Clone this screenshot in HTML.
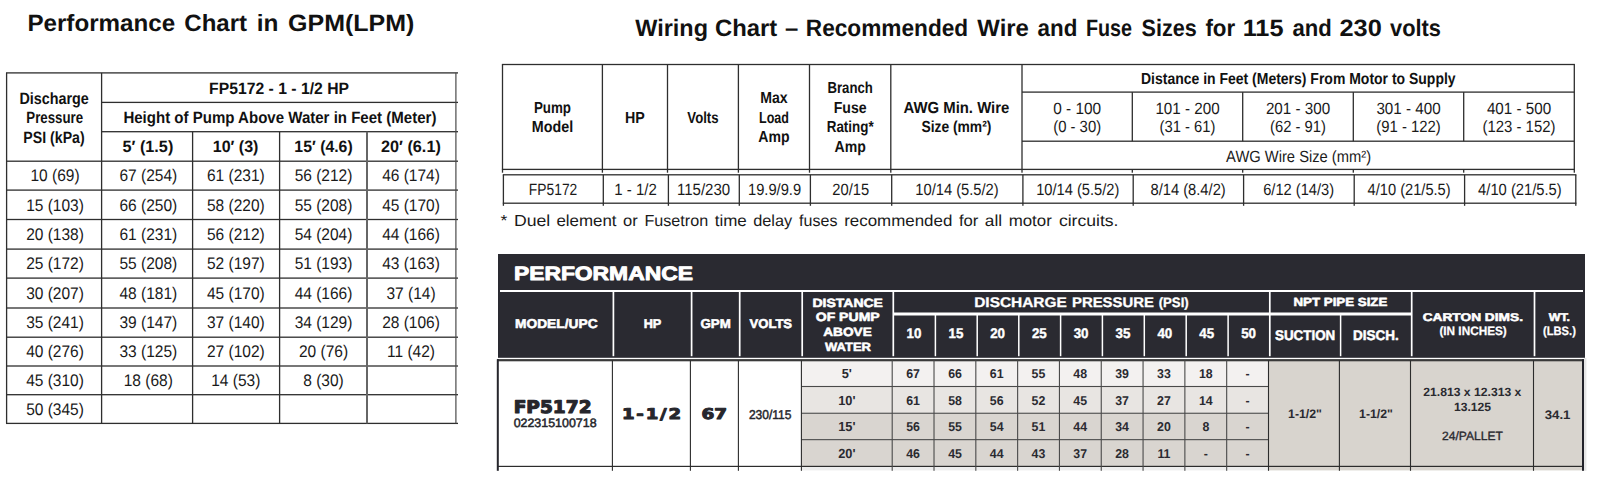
<!DOCTYPE html>
<html lang="en"><head><meta charset="utf-8"><title>FP5172 Performance and Wiring Charts</title>
<style>
html,body{margin:0;padding:0;background:#fff;}
body{width:1606px;height:487px;overflow:hidden;}
svg{display:block;}
text{font-family:"Liberation Sans",sans-serif;text-anchor:middle;white-space:pre;}
.d{font-family:"DejaVu Sans",sans-serif;}
.w{font-weight:bold;}
</style></head><body>
<svg width="1606" height="487" viewBox="0 0 1606 487" shape-rendering="geometricPrecision" text-rendering="geometricPrecision">
<rect x="0" y="0" width="1606" height="487" fill="#ffffff"/>
<rect x="6.00" y="72.25" width="452.00" height="1.30" fill="#2e2e2e"/>
<rect x="101.60" y="101.75" width="356.40" height="1.30" fill="#2e2e2e"/>
<rect x="101.60" y="131.05" width="356.40" height="1.30" fill="#2e2e2e"/>
<rect x="6.00" y="160.55" width="452.00" height="1.30" fill="#2e2e2e"/>
<rect x="6.00" y="189.45" width="452.00" height="1.30" fill="#2e2e2e"/>
<rect x="6.00" y="218.85" width="452.00" height="1.30" fill="#2e2e2e"/>
<rect x="6.00" y="248.45" width="452.00" height="1.30" fill="#2e2e2e"/>
<rect x="6.00" y="277.45" width="452.00" height="1.30" fill="#2e2e2e"/>
<rect x="6.00" y="307.35" width="452.00" height="1.30" fill="#2e2e2e"/>
<rect x="6.00" y="336.55" width="452.00" height="1.30" fill="#2e2e2e"/>
<rect x="6.00" y="365.35" width="452.00" height="1.30" fill="#2e2e2e"/>
<rect x="6.00" y="394.05" width="452.00" height="1.30" fill="#2e2e2e"/>
<rect x="6.00" y="422.75" width="452.00" height="1.30" fill="#2e2e2e"/>
<rect x="5.95" y="72.90" width="1.30" height="350.50" fill="#2e2e2e"/>
<rect x="100.95" y="72.90" width="1.30" height="350.50" fill="#2e2e2e"/>
<rect x="191.95" y="131.70" width="1.30" height="291.70" fill="#2e2e2e"/>
<rect x="278.95" y="131.70" width="1.30" height="291.70" fill="#2e2e2e"/>
<rect x="366.00" y="131.70" width="2.00" height="291.70" fill="#666"/>
<rect x="455.30" y="72.90" width="1.20" height="350.50" fill="#4a4a4a"/>
<rect x="501.90" y="63.85" width="1073.00" height="1.30" fill="#2e2e2e"/>
<rect x="1022.00" y="91.45" width="552.30" height="1.30" fill="#2e2e2e"/>
<rect x="1022.00" y="140.55" width="552.30" height="1.30" fill="#2e2e2e"/>
<rect x="501.90" y="168.75" width="1073.00" height="1.30" fill="#2e2e2e"/>
<rect x="501.85" y="64.50" width="1.30" height="108.20" fill="#2e2e2e"/>
<rect x="601.75" y="64.50" width="1.30" height="108.20" fill="#2e2e2e"/>
<rect x="666.85" y="64.50" width="1.30" height="108.20" fill="#2e2e2e"/>
<rect x="737.75" y="64.50" width="1.30" height="108.20" fill="#2e2e2e"/>
<rect x="808.85" y="64.50" width="1.30" height="108.20" fill="#2e2e2e"/>
<rect x="890.15" y="64.50" width="1.30" height="108.20" fill="#2e2e2e"/>
<rect x="1021.35" y="64.50" width="1.30" height="108.20" fill="#2e2e2e"/>
<rect x="1131.65" y="92.10" width="1.30" height="49.10" fill="#2e2e2e"/>
<rect x="1131.65" y="169.40" width="1.30" height="3.30" fill="#2e2e2e"/>
<rect x="1242.05" y="92.10" width="1.30" height="49.10" fill="#2e2e2e"/>
<rect x="1242.05" y="169.40" width="1.30" height="3.30" fill="#2e2e2e"/>
<rect x="1352.65" y="92.10" width="1.30" height="49.10" fill="#2e2e2e"/>
<rect x="1352.65" y="169.40" width="1.30" height="3.30" fill="#2e2e2e"/>
<rect x="1463.05" y="92.10" width="1.30" height="49.10" fill="#2e2e2e"/>
<rect x="1463.05" y="169.40" width="1.30" height="3.30" fill="#2e2e2e"/>
<rect x="1573.65" y="64.50" width="1.30" height="108.20" fill="#2e2e2e"/>
<rect x="502.80" y="174.15" width="1073.60" height="1.30" fill="#2e2e2e"/>
<rect x="502.80" y="202.55" width="1073.60" height="1.30" fill="#2e2e2e"/>
<rect x="502.75" y="174.80" width="1.30" height="31.00" fill="#2e2e2e"/>
<rect x="602.65" y="174.80" width="1.30" height="31.00" fill="#2e2e2e"/>
<rect x="667.75" y="174.80" width="1.30" height="31.00" fill="#2e2e2e"/>
<rect x="738.65" y="174.80" width="1.30" height="31.00" fill="#2e2e2e"/>
<rect x="809.75" y="174.80" width="1.30" height="31.00" fill="#2e2e2e"/>
<rect x="891.05" y="174.80" width="1.30" height="31.00" fill="#2e2e2e"/>
<rect x="1022.25" y="174.80" width="1.30" height="31.00" fill="#2e2e2e"/>
<rect x="1132.55" y="174.80" width="1.30" height="31.00" fill="#2e2e2e"/>
<rect x="1242.95" y="174.80" width="1.30" height="31.00" fill="#2e2e2e"/>
<rect x="1353.55" y="174.80" width="1.30" height="31.00" fill="#2e2e2e"/>
<rect x="1463.95" y="174.80" width="1.30" height="31.00" fill="#2e2e2e"/>
<rect x="1575.15" y="174.80" width="1.30" height="31.00" fill="#2e2e2e"/>
<rect x="498.00" y="254.00" width="1087.00" height="103.80" fill="#2a2a31"/>
<rect x="500.00" y="290.00" width="1083.00" height="2.00" fill="#ffffff"/>
<rect x="612.55" y="291.20" width="1.70" height="65.00" fill="#ffffff"/>
<rect x="690.75" y="291.20" width="1.70" height="65.00" fill="#ffffff"/>
<rect x="738.85" y="291.20" width="1.70" height="65.00" fill="#ffffff"/>
<rect x="801.35" y="291.20" width="1.70" height="65.00" fill="#ffffff"/>
<rect x="892.45" y="291.20" width="1.70" height="65.00" fill="#ffffff"/>
<rect x="1268.95" y="291.20" width="1.70" height="65.00" fill="#ffffff"/>
<rect x="1410.85" y="291.20" width="1.70" height="65.00" fill="#ffffff"/>
<rect x="1533.65" y="291.20" width="1.70" height="65.00" fill="#ffffff"/>
<rect x="934.65" y="313.80" width="1.50" height="42.40" fill="#ffffff"/>
<rect x="976.45" y="313.80" width="1.50" height="42.40" fill="#ffffff"/>
<rect x="1018.05" y="313.80" width="1.50" height="42.40" fill="#ffffff"/>
<rect x="1059.85" y="313.80" width="1.50" height="42.40" fill="#ffffff"/>
<rect x="1101.65" y="313.80" width="1.50" height="42.40" fill="#ffffff"/>
<rect x="1143.55" y="313.80" width="1.50" height="42.40" fill="#ffffff"/>
<rect x="1185.45" y="313.80" width="1.50" height="42.40" fill="#ffffff"/>
<rect x="1227.35" y="313.80" width="1.50" height="42.40" fill="#ffffff"/>
<rect x="1339.85" y="313.80" width="1.50" height="42.40" fill="#ffffff"/>
<rect x="893.10" y="312.50" width="518.40" height="3.00" fill="#ffffff"/>
<rect x="801.40" y="360.30" width="467.10" height="26.20" fill="#f3f1f0"/>
<rect x="801.40" y="386.50" width="467.10" height="26.75" fill="#e8e5e2"/>
<rect x="801.40" y="413.25" width="467.10" height="26.40" fill="#d9d5d0"/>
<rect x="801.40" y="439.65" width="467.10" height="26.75" fill="#d9d5d0"/>
<rect x="801.40" y="466.40" width="467.10" height="4.00" fill="#eeeeee"/>
<rect x="1268.50" y="360.30" width="314.50" height="110.10" fill="#d8d4ce"/>
<rect x="1584.00" y="358.00" width="2.40" height="112.80" fill="#e6e6e6"/>
<rect x="497.00" y="359.10" width="1087.00" height="2.20" fill="#3a3a3a"/>
<rect x="497.00" y="465.80" width="1087.00" height="1.20" fill="#2c2c2c"/>
<rect x="801.40" y="385.95" width="467.10" height="1.10" fill="#4a4a4a"/>
<rect x="801.40" y="412.70" width="467.10" height="1.10" fill="#4a4a4a"/>
<rect x="801.40" y="439.10" width="467.10" height="1.10" fill="#4a4a4a"/>
<rect x="611.85" y="360.30" width="1.10" height="110.50" fill="#2c2c2c"/>
<rect x="689.85" y="360.30" width="1.10" height="110.50" fill="#2c2c2c"/>
<rect x="737.85" y="360.30" width="1.10" height="110.50" fill="#2c2c2c"/>
<rect x="800.85" y="360.30" width="1.10" height="110.50" fill="#2c2c2c"/>
<rect x="891.65" y="360.30" width="1.10" height="110.50" fill="#4a4a4a"/>
<rect x="933.46" y="360.30" width="1.10" height="110.50" fill="#4a4a4a"/>
<rect x="975.27" y="360.30" width="1.10" height="110.50" fill="#4a4a4a"/>
<rect x="1017.08" y="360.30" width="1.10" height="110.50" fill="#4a4a4a"/>
<rect x="1058.89" y="360.30" width="1.10" height="110.50" fill="#4a4a4a"/>
<rect x="1100.70" y="360.30" width="1.10" height="110.50" fill="#4a4a4a"/>
<rect x="1142.51" y="360.30" width="1.10" height="110.50" fill="#4a4a4a"/>
<rect x="1184.32" y="360.30" width="1.10" height="110.50" fill="#4a4a4a"/>
<rect x="1226.13" y="360.30" width="1.10" height="110.50" fill="#4a4a4a"/>
<rect x="1267.95" y="360.30" width="1.10" height="110.50" fill="#2c2c2c"/>
<rect x="1338.85" y="360.30" width="1.10" height="110.50" fill="#2c2c2c"/>
<rect x="1409.95" y="360.30" width="1.10" height="110.50" fill="#2c2c2c"/>
<rect x="1532.95" y="360.30" width="1.10" height="110.50" fill="#2c2c2c"/>
<rect x="496.80" y="359.30" width="2.00" height="111.50" fill="#26262c"/>
<rect x="1582.00" y="359.30" width="2.00" height="111.50" fill="#22222a"/>
<text class="w" font-size="23.50" fill="#111" transform="translate(101.25 31.40) scale(1.0279 1)">Performance</text>
<text class="w" font-size="23.50" fill="#111" transform="translate(215.70 31.40) scale(1.0232 1)">Chart</text>
<text class="w" font-size="23.50" fill="#111" transform="translate(267.55 31.40) scale(1.0387 1)">in</text>
<text class="w" font-size="23.50" fill="#111" transform="translate(351.25 31.40) scale(1.0632 1)">GPM(LPM)</text>
<text class="w" font-size="16.40" fill="#111" transform="translate(279.10 93.80) scale(0.9604 1)">FP5172 - 1 - 1/2 HP</text>
<text class="w" font-size="16.40" fill="#111" transform="translate(279.90 123.40) scale(0.9174 1)">Height of Pump Above Water in Feet (Meter)</text>
<text class="w" font-size="16.40" fill="#111" transform="translate(54.10 104.20) scale(0.8755 1)">Discharge</text>
<text class="w" font-size="16.40" fill="#111" transform="translate(54.70 123.40) scale(0.8094 1)">Pressure</text>
<text class="w" font-size="16.40" fill="#111" transform="translate(54.00 142.80) scale(0.8626 1)">PSI (kPa)</text>
<text class="w" font-size="16.40" fill="#111" transform="translate(147.90 152.00) scale(0.9900 1)">5′ (1.5)</text>
<text class="w" font-size="16.40" fill="#111" transform="translate(235.60 152.00) scale(0.9775 1)">10′ (3)</text>
<text class="w" font-size="16.40" fill="#111" transform="translate(323.50 152.00) scale(0.9649 1)">15′ (4.6)</text>
<text class="w" font-size="16.40" fill="#111" transform="translate(410.90 152.00) scale(0.9897 1)">20′ (6.1)</text>
<text font-size="16.80" fill="#1a1a1a" transform="translate(55.00 181.45) scale(0.9240 1)">10 (69)</text>
<text font-size="16.80" fill="#1a1a1a" transform="translate(148.30 181.45) scale(0.9240 1)">67 (254)</text>
<text font-size="16.80" fill="#1a1a1a" transform="translate(235.80 181.45) scale(0.9240 1)">61 (231)</text>
<text font-size="16.80" fill="#1a1a1a" transform="translate(323.50 181.45) scale(0.9240 1)">56 (212)</text>
<text font-size="16.80" fill="#1a1a1a" transform="translate(411.00 181.45) scale(0.9240 1)">46 (174)</text>
<text font-size="16.80" fill="#1a1a1a" transform="translate(55.00 210.60) scale(0.9240 1)">15 (103)</text>
<text font-size="16.80" fill="#1a1a1a" transform="translate(148.30 210.60) scale(0.9240 1)">66 (250)</text>
<text font-size="16.80" fill="#1a1a1a" transform="translate(235.80 210.60) scale(0.9240 1)">58 (220)</text>
<text font-size="16.80" fill="#1a1a1a" transform="translate(323.50 210.60) scale(0.9240 1)">55 (208)</text>
<text font-size="16.80" fill="#1a1a1a" transform="translate(411.00 210.60) scale(0.9240 1)">45 (170)</text>
<text font-size="16.80" fill="#1a1a1a" transform="translate(55.00 240.10) scale(0.9240 1)">20 (138)</text>
<text font-size="16.80" fill="#1a1a1a" transform="translate(148.30 240.10) scale(0.9240 1)">61 (231)</text>
<text font-size="16.80" fill="#1a1a1a" transform="translate(235.80 240.10) scale(0.9240 1)">56 (212)</text>
<text font-size="16.80" fill="#1a1a1a" transform="translate(323.50 240.10) scale(0.9240 1)">54 (204)</text>
<text font-size="16.80" fill="#1a1a1a" transform="translate(411.00 240.10) scale(0.9240 1)">44 (166)</text>
<text font-size="16.80" fill="#1a1a1a" transform="translate(55.00 269.40) scale(0.9240 1)">25 (172)</text>
<text font-size="16.80" fill="#1a1a1a" transform="translate(148.30 269.40) scale(0.9240 1)">55 (208)</text>
<text font-size="16.80" fill="#1a1a1a" transform="translate(235.80 269.40) scale(0.9240 1)">52 (197)</text>
<text font-size="16.80" fill="#1a1a1a" transform="translate(323.50 269.40) scale(0.9240 1)">51 (193)</text>
<text font-size="16.80" fill="#1a1a1a" transform="translate(411.00 269.40) scale(0.9240 1)">43 (163)</text>
<text font-size="16.80" fill="#1a1a1a" transform="translate(55.00 298.85) scale(0.9240 1)">30 (207)</text>
<text font-size="16.80" fill="#1a1a1a" transform="translate(148.30 298.85) scale(0.9240 1)">48 (181)</text>
<text font-size="16.80" fill="#1a1a1a" transform="translate(235.80 298.85) scale(0.9240 1)">45 (170)</text>
<text font-size="16.80" fill="#1a1a1a" transform="translate(323.50 298.85) scale(0.9240 1)">44 (166)</text>
<text font-size="16.80" fill="#1a1a1a" transform="translate(411.00 298.85) scale(0.9240 1)">37 (14)</text>
<text font-size="16.80" fill="#1a1a1a" transform="translate(55.00 328.40) scale(0.9240 1)">35 (241)</text>
<text font-size="16.80" fill="#1a1a1a" transform="translate(148.30 328.40) scale(0.9240 1)">39 (147)</text>
<text font-size="16.80" fill="#1a1a1a" transform="translate(235.80 328.40) scale(0.9240 1)">37 (140)</text>
<text font-size="16.80" fill="#1a1a1a" transform="translate(323.50 328.40) scale(0.9240 1)">34 (129)</text>
<text font-size="16.80" fill="#1a1a1a" transform="translate(411.00 328.40) scale(0.9240 1)">28 (106)</text>
<text font-size="16.80" fill="#1a1a1a" transform="translate(55.00 357.40) scale(0.9240 1)">40 (276)</text>
<text font-size="16.80" fill="#1a1a1a" transform="translate(148.30 357.40) scale(0.9240 1)">33 (125)</text>
<text font-size="16.80" fill="#1a1a1a" transform="translate(235.80 357.40) scale(0.9240 1)">27 (102)</text>
<text font-size="16.80" fill="#1a1a1a" transform="translate(323.50 357.40) scale(0.9240 1)">20 (76)</text>
<text font-size="16.80" fill="#1a1a1a" transform="translate(411.00 357.40) scale(0.9240 1)">11 (42)</text>
<text font-size="16.80" fill="#1a1a1a" transform="translate(55.00 386.15) scale(0.9240 1)">45 (310)</text>
<text font-size="16.80" fill="#1a1a1a" transform="translate(148.30 386.15) scale(0.9240 1)">18 (68)</text>
<text font-size="16.80" fill="#1a1a1a" transform="translate(235.80 386.15) scale(0.9240 1)">14 (53)</text>
<text font-size="16.80" fill="#1a1a1a" transform="translate(323.50 386.15) scale(0.9240 1)">8 (30)</text>
<text font-size="16.80" fill="#1a1a1a" transform="translate(55.00 414.85) scale(0.9240 1)">50 (345)</text>
<text class="w" font-size="23.70" fill="#111" transform="translate(671.65 35.60) scale(0.9895 1)">Wiring</text>
<text class="w" font-size="23.70" fill="#111" transform="translate(746.20 35.60) scale(1.0055 1)">Chart</text>
<text class="w" font-size="23.70" fill="#111" transform="translate(791.55 35.60) scale(1.0085 1)">–</text>
<text class="w" font-size="23.70" fill="#111" transform="translate(887.00 35.60) scale(0.9563 1)">Recommended</text>
<text class="w" font-size="23.70" fill="#111" transform="translate(1003.10 35.60) scale(1.0093 1)">Wire</text>
<text class="w" font-size="23.70" fill="#111" transform="translate(1057.50 35.60) scale(0.9448 1)">and</text>
<text class="w" font-size="23.70" fill="#111" transform="translate(1108.95 35.60) scale(0.8337 1)">Fuse</text>
<text class="w" font-size="23.70" fill="#111" transform="translate(1169.20 35.60) scale(0.9112 1)">Sizes</text>
<text class="w" font-size="23.70" fill="#111" transform="translate(1220.30 35.60) scale(0.9437 1)">for</text>
<text class="w" font-size="23.70" fill="#111" transform="translate(1263.10 35.60) scale(1.0675 1)">115</text>
<text class="w" font-size="23.70" fill="#111" transform="translate(1312.05 35.60) scale(0.9329 1)">and</text>
<text class="w" font-size="23.70" fill="#111" transform="translate(1360.65 35.60) scale(1.0700 1)">230</text>
<text class="w" font-size="23.70" fill="#111" transform="translate(1415.50 35.60) scale(0.9223 1)">volts</text>
<text class="w" font-size="16.00" fill="#111" transform="translate(552.45 113.40) scale(0.8346 1)">Pump</text>
<text class="w" font-size="16.00" fill="#111" transform="translate(552.45 132.00) scale(0.8936 1)">Model</text>
<text class="w" font-size="16.00" fill="#111" transform="translate(634.95 122.50) scale(0.8905 1)">HP</text>
<text class="w" font-size="16.00" fill="#111" transform="translate(702.95 122.50) scale(0.8250 1)">Volts</text>
<text class="w" font-size="16.00" fill="#111" transform="translate(773.95 103.10) scale(0.8800 1)">Max</text>
<text class="w" font-size="16.00" fill="#111" transform="translate(773.95 122.50) scale(0.7823 1)">Load</text>
<text class="w" font-size="16.00" fill="#111" transform="translate(773.95 141.90) scale(0.8800 1)">Amp</text>
<text class="w" font-size="16.00" fill="#111" transform="translate(850.15 93.20) scale(0.8236 1)">Branch</text>
<text class="w" font-size="16.00" fill="#111" transform="translate(850.15 113.40) scale(0.8800 1)">Fuse</text>
<text class="w" font-size="16.00" fill="#111" transform="translate(850.15 132.20) scale(0.8375 1)">Rating*</text>
<text class="w" font-size="16.00" fill="#111" transform="translate(850.15 152.20) scale(0.8800 1)">Amp</text>
<text class="w" font-size="16.00" fill="#111" transform="translate(956.40 113.40) scale(0.9310 1)">AWG Min. Wire</text>
<text class="w" font-size="16.00" fill="#111" transform="translate(956.40 132.20) scale(0.8652 1)">Size (mm²)</text>
<text class="w" font-size="16.00" fill="#111" transform="translate(1298.30 83.60) scale(0.8738 1)">Distance in Feet (Meters) From Motor to Supply</text>
<text font-size="16.30" fill="#1a1a1a" transform="translate(1077.15 113.50) scale(0.9447 1)">0 - 100</text>
<text font-size="16.30" fill="#1a1a1a" transform="translate(1077.15 132.20) scale(0.9127 1)">(0 - 30)</text>
<text font-size="16.30" fill="#1a1a1a" transform="translate(1187.50 113.50) scale(0.9330 1)">101 - 200</text>
<text font-size="16.30" fill="#1a1a1a" transform="translate(1187.50 132.20) scale(0.9083 1)">(31 - 61)</text>
<text font-size="16.30" fill="#1a1a1a" transform="translate(1298.00 113.50) scale(0.9330 1)">201 - 300</text>
<text font-size="16.30" fill="#1a1a1a" transform="translate(1298.00 132.20) scale(0.9083 1)">(62 - 91)</text>
<text font-size="16.30" fill="#1a1a1a" transform="translate(1408.50 113.50) scale(0.9330 1)">301 - 400</text>
<text font-size="16.30" fill="#1a1a1a" transform="translate(1408.50 132.20) scale(0.9137 1)">(91 - 122)</text>
<text font-size="16.30" fill="#1a1a1a" transform="translate(1519.00 113.50) scale(0.9330 1)">401 - 500</text>
<text font-size="16.30" fill="#1a1a1a" transform="translate(1519.00 132.20) scale(0.9164 1)">(123 - 152)</text>
<text font-size="16.30" fill="#1a1a1a" transform="translate(1298.60 162.10) scale(0.9040 1)">AWG Wire Size (mm²)</text>
<text font-size="16.30" fill="#1a1a1a" transform="translate(553.05 194.70) scale(0.8487 1)">FP5172</text>
<text font-size="16.30" fill="#1a1a1a" transform="translate(635.55 194.70) scale(0.9205 1)">1 - 1/2</text>
<text font-size="16.30" fill="#1a1a1a" transform="translate(703.55 194.70) scale(0.9227 1)">115/230</text>
<text font-size="16.30" fill="#1a1a1a" transform="translate(774.55 194.70) scale(0.9038 1)">19.9/9.9</text>
<text font-size="16.30" fill="#1a1a1a" transform="translate(850.75 194.70) scale(0.9031 1)">20/15</text>
<text font-size="16.30" fill="#1a1a1a" transform="translate(957.00 194.70) scale(0.9033 1)">10/14 (5.5/2)</text>
<text font-size="16.30" fill="#1a1a1a" transform="translate(1077.75 194.70) scale(0.9001 1)">10/14 (5.5/2)</text>
<text font-size="16.30" fill="#1a1a1a" transform="translate(1188.10 194.70) scale(0.9042 1)">8/14 (8.4/2)</text>
<text font-size="16.30" fill="#1a1a1a" transform="translate(1298.60 194.70) scale(0.9003 1)">6/12 (14/3)</text>
<text font-size="16.30" fill="#1a1a1a" transform="translate(1409.10 194.70) scale(0.9001 1)">4/10 (21/5.5)</text>
<text font-size="16.30" fill="#1a1a1a" transform="translate(1519.90 194.70) scale(0.9055 1)">4/10 (21/5.5)</text>
<text font-size="16.00" fill="#1a1a1a" transform="translate(504.00 226.30) scale(1.0907 1)">*</text>
<text font-size="16.00" fill="#1a1a1a" transform="translate(532.05 226.30) scale(1.1031 1)">Duel</text>
<text font-size="16.00" fill="#1a1a1a" transform="translate(586.45 226.30) scale(1.0558 1)">element</text>
<text font-size="16.00" fill="#1a1a1a" transform="translate(630.45 226.30) scale(1.0327 1)">or</text>
<text font-size="16.00" fill="#1a1a1a" transform="translate(676.25 226.30) scale(1.0089 1)">Fusetron</text>
<text font-size="16.00" fill="#1a1a1a" transform="translate(730.75 226.30) scale(1.0617 1)">time</text>
<text font-size="16.00" fill="#1a1a1a" transform="translate(772.70 226.30) scale(1.0196 1)">delay</text>
<text font-size="16.00" fill="#1a1a1a" transform="translate(818.25 226.30) scale(1.0013 1)">fuses</text>
<text font-size="16.00" fill="#1a1a1a" transform="translate(898.25 226.30) scale(1.0569 1)">recommended</text>
<text font-size="16.00" fill="#1a1a1a" transform="translate(968.65 226.30) scale(1.0444 1)">for</text>
<text font-size="16.00" fill="#1a1a1a" transform="translate(993.45 226.30) scale(1.0802 1)">all</text>
<text font-size="16.00" fill="#1a1a1a" transform="translate(1030.25 226.30) scale(1.0536 1)">motor</text>
<text font-size="16.00" fill="#1a1a1a" transform="translate(1088.70 226.30) scale(1.0989 1)">circuits.</text>
<text class="w" font-size="19.30" fill="#ffffff" stroke="#ffffff" stroke-width="0.90" stroke-linejoin="round" transform="translate(603.40 280.30) scale(1.1851 1)">PERFORMANCE</text>
<text class="w" font-size="12.80" fill="#ffffff" stroke="#ffffff" stroke-width="0.55" stroke-linejoin="round" transform="translate(556.30 327.90) scale(1.0756 1)">MODEL/UPC</text>
<text class="w" font-size="12.80" fill="#ffffff" stroke="#ffffff" stroke-width="0.55" stroke-linejoin="round" transform="translate(652.50 327.90) scale(0.9954 1)">HP</text>
<text class="w" font-size="12.80" fill="#ffffff" stroke="#ffffff" stroke-width="0.55" stroke-linejoin="round" transform="translate(715.60 327.90) scale(1.0392 1)">GPM</text>
<text class="w" font-size="12.80" fill="#ffffff" stroke="#ffffff" stroke-width="0.55" stroke-linejoin="round" transform="translate(770.80 327.90) scale(1.0211 1)">VOLTS</text>
<text class="w" font-size="12.00" fill="#ffffff" stroke="#ffffff" stroke-width="0.55" stroke-linejoin="round" transform="translate(847.70 306.90) scale(1.1662 1)">DISTANCE</text>
<text class="w" font-size="12.00" fill="#ffffff" stroke="#ffffff" stroke-width="0.55" stroke-linejoin="round" transform="translate(847.70 321.10) scale(1.1706 1)">OF PUMP</text>
<text class="w" font-size="12.00" fill="#ffffff" stroke="#ffffff" stroke-width="0.55" stroke-linejoin="round" transform="translate(847.50 336.00) scale(1.1385 1)">ABOVE</text>
<text class="w" font-size="12.00" fill="#ffffff" stroke="#ffffff" stroke-width="0.55" stroke-linejoin="round" transform="translate(848.00 350.50) scale(1.0835 1)">WATER</text>
<text class="w" font-size="14.00" fill="#ffffff" stroke="#ffffff" stroke-width="0.30" stroke-linejoin="round" transform="translate(1020.50 307.00) scale(1.1022 1)">DISCHARGE</text>
<text class="w" font-size="14.00" fill="#ffffff" stroke="#ffffff" stroke-width="0.30" stroke-linejoin="round" transform="translate(1112.95 307.00) scale(1.0632 1)">PRESSURE</text>
<text class="w" font-size="13.60" fill="#ffffff" stroke="#ffffff" stroke-width="0.30" stroke-linejoin="round" transform="translate(1173.70 307.00) scale(0.9687 1)">(PSI)</text>
<text class="w" font-size="13.90" fill="#ffffff" stroke="#ffffff" stroke-width="0.40" stroke-linejoin="round" transform="translate(913.95 337.50) scale(0.9600 1)">10</text>
<text class="w" font-size="13.90" fill="#ffffff" stroke="#ffffff" stroke-width="0.40" stroke-linejoin="round" transform="translate(955.90 337.50) scale(0.9600 1)">15</text>
<text class="w" font-size="13.90" fill="#ffffff" stroke="#ffffff" stroke-width="0.40" stroke-linejoin="round" transform="translate(997.60 337.50) scale(0.9600 1)">20</text>
<text class="w" font-size="13.90" fill="#ffffff" stroke="#ffffff" stroke-width="0.40" stroke-linejoin="round" transform="translate(1039.30 337.50) scale(0.9600 1)">25</text>
<text class="w" font-size="13.90" fill="#ffffff" stroke="#ffffff" stroke-width="0.40" stroke-linejoin="round" transform="translate(1081.10 337.50) scale(0.9600 1)">30</text>
<text class="w" font-size="13.90" fill="#ffffff" stroke="#ffffff" stroke-width="0.40" stroke-linejoin="round" transform="translate(1122.95 337.50) scale(0.9600 1)">35</text>
<text class="w" font-size="13.90" fill="#ffffff" stroke="#ffffff" stroke-width="0.40" stroke-linejoin="round" transform="translate(1164.85 337.50) scale(0.9600 1)">40</text>
<text class="w" font-size="13.90" fill="#ffffff" stroke="#ffffff" stroke-width="0.40" stroke-linejoin="round" transform="translate(1206.75 337.50) scale(0.9600 1)">45</text>
<text class="w" font-size="13.90" fill="#ffffff" stroke="#ffffff" stroke-width="0.40" stroke-linejoin="round" transform="translate(1248.55 337.50) scale(0.9600 1)">50</text>
<text class="w" font-size="11.80" fill="#ffffff" stroke="#ffffff" stroke-width="0.55" stroke-linejoin="round" transform="translate(1340.40 306.30) scale(1.1277 1)">NPT PIPE SIZE</text>
<text class="w" font-size="14.00" fill="#ffffff" stroke="#ffffff" stroke-width="0.50" stroke-linejoin="round" transform="translate(1305.10 339.60) scale(0.9556 1)">SUCTION</text>
<text class="w" font-size="14.00" fill="#ffffff" stroke="#ffffff" stroke-width="0.50" stroke-linejoin="round" transform="translate(1375.90 339.60) scale(0.9652 1)">DISCH.</text>
<text class="w" font-size="11.20" fill="#ffffff" stroke="#ffffff" stroke-width="0.55" stroke-linejoin="round" transform="translate(1472.80 320.90) scale(1.2255 1)">CARTON DIMS.</text>
<text class="w" font-size="12.20" fill="#ffffff" stroke="#ffffff" stroke-width="0.25" stroke-linejoin="round" transform="translate(1473.10 334.90) scale(0.9663 1)">(IN INCHES)</text>
<text class="w" font-size="11.20" fill="#ffffff" stroke="#ffffff" stroke-width="0.55" stroke-linejoin="round" transform="translate(1559.40 320.90) scale(1.1056 1)">WT.</text>
<text class="w" font-size="12.20" fill="#ffffff" stroke="#ffffff" stroke-width="0.25" stroke-linejoin="round" transform="translate(1559.40 334.90) scale(0.9167 1)">(LBS.)</text>
<text class="d w" font-size="17.40" fill="#26262c" stroke="#26262c" stroke-width="1.10" stroke-linejoin="round" transform="translate(552.60 413.10) scale(1.0667 1)">FP5172</text>
<text font-size="12.20" fill="#26262c" stroke="#26262c" stroke-width="0.50" stroke-linejoin="round" transform="translate(555.10 427.10) scale(1.0191 1)">022315100718</text>
<text class="d w" font-size="14.80" fill="#26262c" letter-spacing="1.50" stroke="#26262c" stroke-width="1.00" stroke-linejoin="round" transform="translate(652.40 419.00) scale(1.2215 1)">1-1/2</text>
<text class="d w" font-size="14.80" fill="#26262c" stroke="#26262c" stroke-width="1.00" stroke-linejoin="round" transform="translate(714.20 419.00) scale(1.2431 1)">67</text>
<text font-size="12.80" fill="#26262c" stroke="#26262c" stroke-width="0.50" stroke-linejoin="round" transform="translate(770.20 418.50) scale(0.9401 1)">230/115</text>
<text class="w" font-size="13.20" fill="#2a2a30" transform="translate(846.80 378.10) scale(0.9700 1)">5'</text>
<text class="w" font-size="12.80" fill="#2a2a30" transform="translate(913.05 378.00) scale(0.9650 1)">67</text>
<text class="w" font-size="12.80" fill="#2a2a30" transform="translate(955.00 378.00) scale(0.9650 1)">66</text>
<text class="w" font-size="12.80" fill="#2a2a30" transform="translate(996.70 378.00) scale(0.9650 1)">61</text>
<text class="w" font-size="12.80" fill="#2a2a30" transform="translate(1038.40 378.00) scale(0.9650 1)">55</text>
<text class="w" font-size="12.80" fill="#2a2a30" transform="translate(1080.20 378.00) scale(0.9650 1)">48</text>
<text class="w" font-size="12.80" fill="#2a2a30" transform="translate(1122.05 378.00) scale(0.9650 1)">39</text>
<text class="w" font-size="12.80" fill="#2a2a30" transform="translate(1163.95 378.00) scale(0.9650 1)">33</text>
<text class="w" font-size="12.80" fill="#2a2a30" transform="translate(1205.85 378.00) scale(0.9650 1)">18</text>
<text class="w" font-size="12.80" fill="#2a2a30" transform="translate(1247.65 378.00) scale(0.9650 1)">-</text>
<text class="w" font-size="13.20" fill="#2a2a30" transform="translate(846.80 405.10) scale(0.9700 1)">10'</text>
<text class="w" font-size="12.80" fill="#2a2a30" transform="translate(913.05 405.00) scale(0.9650 1)">61</text>
<text class="w" font-size="12.80" fill="#2a2a30" transform="translate(955.00 405.00) scale(0.9650 1)">58</text>
<text class="w" font-size="12.80" fill="#2a2a30" transform="translate(996.70 405.00) scale(0.9650 1)">56</text>
<text class="w" font-size="12.80" fill="#2a2a30" transform="translate(1038.40 405.00) scale(0.9650 1)">52</text>
<text class="w" font-size="12.80" fill="#2a2a30" transform="translate(1080.20 405.00) scale(0.9650 1)">45</text>
<text class="w" font-size="12.80" fill="#2a2a30" transform="translate(1122.05 405.00) scale(0.9650 1)">37</text>
<text class="w" font-size="12.80" fill="#2a2a30" transform="translate(1163.95 405.00) scale(0.9650 1)">27</text>
<text class="w" font-size="12.80" fill="#2a2a30" transform="translate(1205.85 405.00) scale(0.9650 1)">14</text>
<text class="w" font-size="12.80" fill="#2a2a30" transform="translate(1247.65 405.00) scale(0.9650 1)">-</text>
<text class="w" font-size="13.20" fill="#2a2a30" transform="translate(846.80 431.10) scale(0.9700 1)">15'</text>
<text class="w" font-size="12.80" fill="#2a2a30" transform="translate(913.05 431.00) scale(0.9650 1)">56</text>
<text class="w" font-size="12.80" fill="#2a2a30" transform="translate(955.00 431.00) scale(0.9650 1)">55</text>
<text class="w" font-size="12.80" fill="#2a2a30" transform="translate(996.70 431.00) scale(0.9650 1)">54</text>
<text class="w" font-size="12.80" fill="#2a2a30" transform="translate(1038.40 431.00) scale(0.9650 1)">51</text>
<text class="w" font-size="12.80" fill="#2a2a30" transform="translate(1080.20 431.00) scale(0.9650 1)">44</text>
<text class="w" font-size="12.80" fill="#2a2a30" transform="translate(1122.05 431.00) scale(0.9650 1)">34</text>
<text class="w" font-size="12.80" fill="#2a2a30" transform="translate(1163.95 431.00) scale(0.9650 1)">20</text>
<text class="w" font-size="12.80" fill="#2a2a30" transform="translate(1205.85 431.00) scale(0.9650 1)">8</text>
<text class="w" font-size="12.80" fill="#2a2a30" transform="translate(1247.65 431.00) scale(0.9650 1)">-</text>
<text class="w" font-size="13.20" fill="#2a2a30" transform="translate(846.80 457.80) scale(0.9700 1)">20'</text>
<text class="w" font-size="12.80" fill="#2a2a30" transform="translate(913.05 457.70) scale(0.9650 1)">46</text>
<text class="w" font-size="12.80" fill="#2a2a30" transform="translate(955.00 457.70) scale(0.9650 1)">45</text>
<text class="w" font-size="12.80" fill="#2a2a30" transform="translate(996.70 457.70) scale(0.9650 1)">44</text>
<text class="w" font-size="12.80" fill="#2a2a30" transform="translate(1038.40 457.70) scale(0.9650 1)">43</text>
<text class="w" font-size="12.80" fill="#2a2a30" transform="translate(1080.20 457.70) scale(0.9650 1)">37</text>
<text class="w" font-size="12.80" fill="#2a2a30" transform="translate(1122.05 457.70) scale(0.9650 1)">28</text>
<text class="w" font-size="12.80" fill="#2a2a30" transform="translate(1163.95 457.70) scale(0.9650 1)">11</text>
<text class="w" font-size="12.80" fill="#2a2a30" transform="translate(1205.85 457.70) scale(0.9650 1)">-</text>
<text class="w" font-size="12.80" fill="#2a2a30" transform="translate(1247.65 457.70) scale(0.9650 1)">-</text>
<text class="w" font-size="12.30" fill="#2a2a30" transform="translate(1305.00 418.10) scale(1.0012 1)">1-1/2"</text>
<text class="w" font-size="12.30" fill="#2a2a30" transform="translate(1376.00 418.10) scale(1.0012 1)">1-1/2"</text>
<text class="w" font-size="12.00" fill="#2a2a30" transform="translate(1472.30 396.00) scale(1.0148 1)">21.813 x 12.313 x</text>
<text class="w" font-size="12.00" fill="#2a2a30" transform="translate(1472.50 410.60) scale(1.0108 1)">13.125</text>
<text font-size="12.00" fill="#2a2a30" stroke="#2a2a30" stroke-width="0.35" stroke-linejoin="round" transform="translate(1472.40 439.70) scale(1.0052 1)">24/PALLET</text>
<text class="w" font-size="12.50" fill="#2a2a30" transform="translate(1557.60 418.50) scale(1.0598 1)">34.1</text>
</svg>
</body></html>
